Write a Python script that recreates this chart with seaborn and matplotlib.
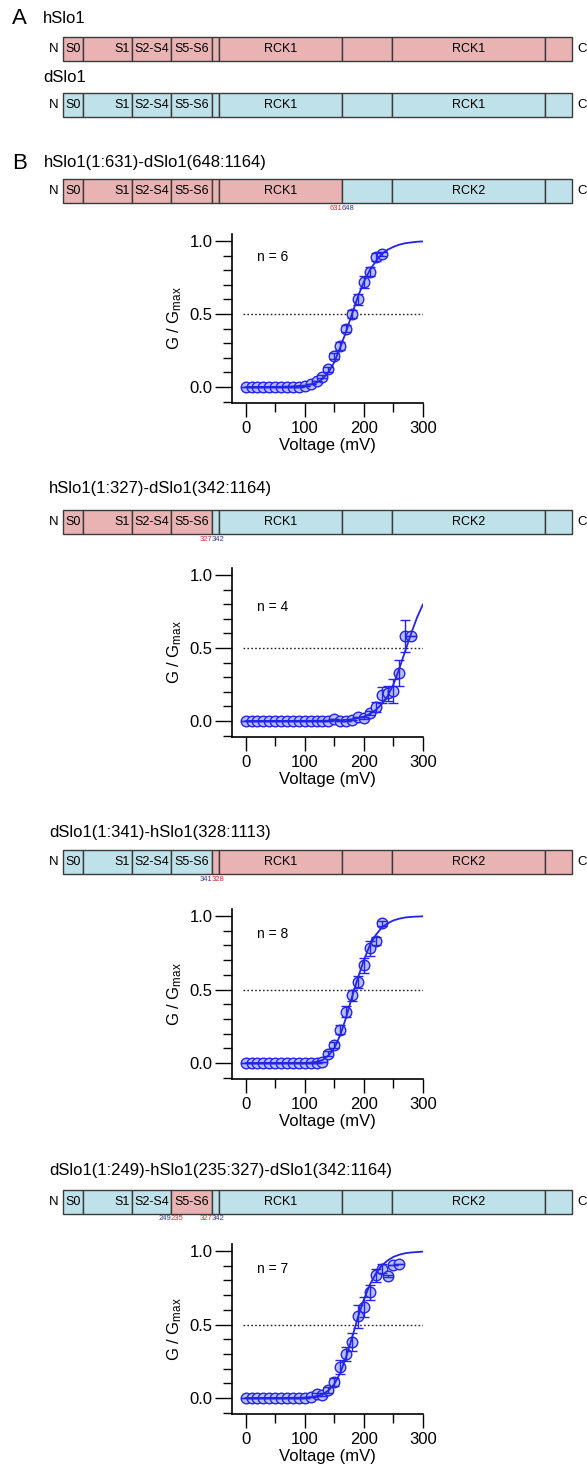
import matplotlib
matplotlib.use("Agg")
import matplotlib.pyplot as plt
from matplotlib.patches import Rectangle
from matplotlib.ticker import MultipleLocator
import seaborn as sns

# --- данные G/Gmax ---
volts_1 = [0, 10, 20, 30, 40, 50, 60, 70, 80, 90, 100, 110, 120, 130, 140, 150,
           160, 170, 180, 190, 200, 210, 220, 230]
g_1 = [0, 0, 0, 0, 0, 0, 0, 0, 0, 0, 0.01, 0.023, 0.04, 0.07, 0.12, 0.215,
       0.28, 0.40, 0.50, 0.60, 0.72, 0.79, 0.89, 0.91]
err_1 = [0, 0, 0, 0, 0, 0, 0, 0, 0, 0, 0, 0, 0, 0.01, 0.015, 0.02,
         0.025, 0.025, 0.03, 0.04, 0.04, 0.03, 0.03, 0.015]
fit_v_1 = [0, 50, 80, 100, 110, 120, 130, 140, 150, 160, 170, 180, 190, 200,
           210, 220, 230, 240, 250, 260, 270, 280, 290, 300]
fit_g_1 = [0, 0.001, 0.004, 0.01, 0.018, 0.03, 0.055, 0.1, 0.17, 0.27, 0.38,
           0.5, 0.62, 0.72, 0.8, 0.86, 0.91, 0.94, 0.96, 0.975, 0.985, 0.99,
           0.995, 0.997]

volts_2 = [0, 10, 20, 30, 40, 50, 60, 70, 80, 90, 100, 110, 120, 130, 140, 150,
           160, 170, 180, 190, 200, 210, 220, 230, 240, 250, 260, 270, 280]
g_2 = [0, 0, 0, 0, 0, 0, 0, 0, 0, 0, 0, 0, 0, 0, 0, 0.014,
       0, 0, 0.007, 0.028, 0.022, 0.053, 0.098, 0.176, 0.19, 0.205, 0.33, 0.58, 0.58]
err_2 = [0, 0, 0, 0, 0, 0, 0, 0, 0, 0, 0, 0, 0, 0, 0, 0,
         0, 0, 0, 0, 0.005, 0.015, 0.035, 0.055, 0.05, 0.085, 0.09, 0.11, 0]
fit_v_2 = [0, 100, 150, 160, 170, 180, 190, 200, 210, 220, 230, 240, 250, 260,
           270, 280, 290, 300]
fit_g_2 = [0, 0.001, 0.003, 0.005, 0.008, 0.012, 0.02, 0.03, 0.048, 0.075,
           0.115, 0.17, 0.25, 0.36, 0.48, 0.6, 0.71, 0.8]

volts_3 = [0, 10, 20, 30, 40, 50, 60, 70, 80, 90, 100, 110, 120, 130, 140, 150,
           160, 170, 180, 190, 200, 210, 220, 230]
g_3 = [0, 0, 0, 0, 0, 0, 0, 0, 0, 0, 0, 0, 0.003, 0.005, 0.064, 0.12,
       0.227, 0.35, 0.46, 0.55, 0.664, 0.78, 0.83, 0.95]
err_3 = [0, 0, 0, 0, 0, 0, 0, 0, 0, 0, 0, 0, 0, 0, 0.015, 0.02,
         0.03, 0.04, 0.035, 0.04, 0.05, 0.05, 0.03, 0.015]
fit_v_3 = [0, 100, 110, 120, 130, 140, 150, 160, 170, 180, 190, 200, 210, 220,
           230, 240, 250, 260, 270, 280, 300]
fit_g_3 = [0, 0.001, 0.003, 0.008, 0.02, 0.05, 0.1, 0.19, 0.31, 0.45, 0.58,
           0.7, 0.8, 0.87, 0.92, 0.95, 0.97, 0.982, 0.99, 0.994, 0.998]

volts_4 = [0, 10, 20, 30, 40, 50, 60, 70, 80, 90, 100, 110, 120, 130, 140, 150,
           160, 170, 180, 190, 200, 210, 220, 230, 240, 250, 260]
g_4 = [0, 0, 0, 0, 0, 0, 0, 0, 0, 0, 0, 0.005, 0.027, 0.023, 0.054, 0.11,
       0.21, 0.30, 0.38, 0.555, 0.62, 0.72, 0.835, 0.88, 0.83, 0.905, 0.914]
err_4 = [0, 0, 0, 0, 0, 0, 0, 0, 0, 0, 0, 0, 0.01, 0.01, 0.02, 0.025,
         0.05, 0.05, 0.06, 0.08, 0.07, 0.05, 0.045, 0.03, 0.01, 0, 0]
fit_v_4 = [0, 80, 100, 110, 120, 130, 140, 150, 160, 170, 180, 190, 200, 210,
           220, 230, 240, 250, 260, 270, 280, 300]
fit_g_4 = [0, 0.001, 0.003, 0.006, 0.012, 0.025, 0.05, 0.095, 0.17, 0.28, 0.41,
           0.55, 0.67, 0.77, 0.845, 0.9, 0.935, 0.96, 0.975, 0.985, 0.99, 0.996]

n_cells = [6, 4, 8, 7]
half = 0.5

# --- схемы доменов ---
seg_names_a = ["S0", "S1", "S2-S4", "S5-S6", "", "RCK1", "", "RCK1", ""]
seg_names_b = ["S0", "S1", "S2-S4", "S5-S6", "", "RCK1", "", "RCK2", ""]
owner_h = ["h"] * 9
owner_d = ["d"] * 9
owner_c1 = ["h", "h", "h", "h", "h", "h", "d", "d", "d"]
owner_c2 = ["h", "h", "h", "h", "d", "d", "d", "d", "d"]
owner_c3 = ["d", "d", "d", "d", "h", "h", "h", "h", "h"]
owner_c4 = ["d", "d", "d", "h", "d", "d", "d", "d", "d"]
titles = ["hSlo1(1:631)-dSlo1(648:1164)", "hSlo1(1:327)-dSlo1(342:1164)",
          "dSlo1(1:341)-hSlo1(328:1113)", "dSlo1(1:249)-hSlo1(235:327)-dSlo1(342:1164)"]
# (номер сегмента-границы, левое число, правое число)
junctions_1 = [(6, "631", "648")]
junctions_2 = [(4, "327", "342")]
junctions_3 = [(4, "341", "328")]
junctions_4 = [(3, "249", "235"), (4, "327", "342")]

# оформление
W, H = 587, 1471
edges = [63, 83, 132, 171, 212, 219, 342, 392, 545, 572]
fill = {"h": "#eab3b3", "d": "#bfe2ea"}
num_col = {"h": "#d62a34", "d": "#343a8c"}
pt_face = "#b6bff7"
blue = "#2424e6"

sns.set_theme(style="ticks")
plt.rcParams['font.family'] = ['Liberation Sans', 'DejaVu Sans']
plt.rcParams['mathtext.default'] = 'regular'
plt.rcParams['text.color'] = 'black'
plt.rcParams['axes.labelcolor'] = 'black'
plt.rcParams['xtick.color'] = 'black'
plt.rcParams['ytick.color'] = 'black'

fig = plt.figure(figsize=(W / 100, H / 100), dpi=100)
ov = fig.add_axes([0, 0, 1, 1])
ov.set_xlim(0, W)
ov.set_ylim(H, 0)
ov.axis("off")


def draw_bar(yc, owners, names, junctions=()):
    for i in range(9):
        x0, x1 = edges[i], edges[i + 1]
        ov.add_patch(Rectangle((x0, yc - 12), x1 - x0, 24, fc=fill[owners[i]],
                               ec="#3a3a3a", lw=1))
        nm = names[i]
        if not nm:
            continue
        if i == 0:
            ov.text(x0 + 2, yc, nm, ha="left", va="center", fontsize=9)
        elif i == 1:
            ov.text(x1 - 2, yc, nm, ha="right", va="center", fontsize=9)
        else:
            ov.text((x0 + x1) / 2, yc, nm, ha="center", va="center", fontsize=9)
    ov.text(59, yc, "N", ha="right", va="center", fontsize=9.5)
    ov.text(577, yc, "C", ha="left", va="center", fontsize=9.5)
    for k, left, right in junctions:
        x = edges[k]
        ov.text(x, yc + 17, left, ha="right", va="center", fontsize=5.5,
                color=num_col[owners[k - 1]])
        ov.text(x, yc + 17, right, ha="left", va="center", fontsize=5.5,
                color=num_col[owners[k]])


ov.text(12, 18, "A", fontsize=16, va="center")
ov.text(43, 18, "hSlo1", fontsize=12, va="center")
draw_bar(49, owner_h, seg_names_a)
ov.text(43, 77, "dSlo1", fontsize=12, va="center")
draw_bar(105, owner_d, seg_names_a)

ov.text(12, 163, "B", fontsize=16, va="center")
ov.text(44, 162, titles[0], fontsize=12, va="center")
draw_bar(191, owner_c1, seg_names_b, junctions_1)
ov.text(49, 488, titles[1], fontsize=12, va="center")
draw_bar(522, owner_c2, seg_names_b, junctions_2)
ov.text(49, 832, titles[2], fontsize=12, va="center")
draw_bar(862, owner_c3, seg_names_b, junctions_3)
ov.text(49, 1171, titles[3], fontsize=12, va="center")
draw_bar(1202, owner_c4, seg_names_b, junctions_4)

# --- графики G/Gmax ---
curves = [
    (volts_1, g_1, err_1, fit_v_1, fit_g_1, 241, 387, 0.89),
    (volts_2, g_2, err_2, fit_v_2, fit_g_2, 575, 721, 0.78),
    (volts_3, g_3, err_3, fit_v_3, fit_g_3, 916, 1063, 0.88),
    (volts_4, g_4, err_4, fit_v_4, fit_g_4, 1251, 1398, 0.88),
]
xmin, xmax, ymin, ymax = -23, 300, -0.11, 1.05
x_left, x_right = 232, 423

for idx, (vv, gg, ee, fv, fg, y_one, y_zero, ny) in enumerate(curves):
    ppu = y_zero - y_one
    top = y_zero - ymax * ppu
    bot = y_zero - ymin * ppu
    ax = fig.add_axes([x_left / W, 1 - bot / H, (x_right - x_left) / W, (bot - top) / H])
    ax.set_facecolor("none")

    ax.hlines(half, -5, 300, colors="#222222", linestyles=(0, (1.2, 1.6)), lw=1, zorder=1)
    sns.scatterplot(x=vv, y=gg, ax=ax, s=58, color=pt_face, edgecolor=blue,
                    linewidth=1, zorder=3, legend=False)
    sns.lineplot(x=fv, y=fg, ax=ax, color=blue, lw=1.3, zorder=4)
    ax.errorbar(vv, gg, yerr=ee, fmt="none", ecolor=blue, elinewidth=1,
                capsize=3.5, capthick=1, zorder=5)

    ax.text(20, ny, f"n = {n_cells[idx]}", fontsize=10, va="center")

    ax.set_xlim(xmin, xmax)
    ax.set_ylim(ymin, ymax)
    ax.set_xticks([0, 100, 200, 300])
    ax.set_xticks([50, 150, 250], minor=True)
    ax.set_yticks([0, 0.5, 1.0])
    ax.set_yticklabels(["0.0", "0.5", "1.0"])
    ax.yaxis.set_minor_locator(MultipleLocator(0.1))
    ax.tick_params(axis="y", which="major", length=12, width=1, labelsize=12,
                   pad=2, colors="black")
    ax.tick_params(axis="y", which="minor", length=6.5, width=1, colors="black")
    ax.tick_params(axis="x", which="major", length=10, width=1, labelsize=12,
                   pad=3, colors="black")
    ax.tick_params(axis="x", which="minor", length=6.5, width=1, colors="black")
    sns.despine(ax=ax)
    for sp in ("left", "bottom"):
        ax.spines[sp].set_color("black")
        ax.spines[sp].set_linewidth(1.2)
    ax.set_xlabel("Voltage (mV)", fontsize=12, labelpad=1)
    ax.set_ylabel("G / G$_{max}$", fontsize=12, labelpad=4)

fig.savefig("out.png", dpi=100)
